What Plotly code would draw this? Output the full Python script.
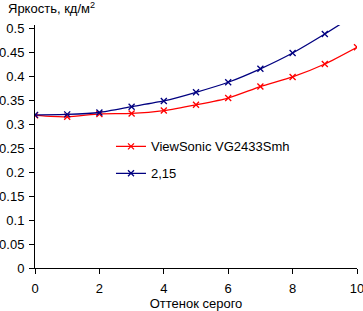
import plotly.graph_objects as go

x_vals = [0, 1, 2, 3, 4, 5, 6, 7, 8, 9, 10]
viewsonic = [0.318, 0.315, 0.321, 0.322, 0.328, 0.340, 0.354, 0.378, 0.398, 0.425, 0.460]
gamma215 = [0.319, 0.320, 0.324, 0.336, 0.348, 0.366, 0.387, 0.415, 0.448, 0.4875, 0.530]

series_names = ["ViewSonic VG2433Smh", "2,15"]
y_title = "Яркость, кд/м<sup>2</sup>"
x_title = "Оттенок серого"

FONT = "Liberation Sans, Arial, sans-serif"

fig = go.Figure()
fig.add_trace(go.Scatter(
    x=x_vals, y=viewsonic, name=series_names[0], mode="lines+markers",
    line=dict(color="#FF0000", width=1.3, shape="spline", smoothing=0.6),
    marker=dict(symbol="x-thin", size=6, line=dict(color="#FF0000", width=1.3)),
    legendgroup="a",
))
fig.add_trace(go.Scatter(
    x=x_vals, y=gamma215, name=series_names[1], mode="lines+markers",
    line=dict(color="#000080", width=1.3, shape="spline", smoothing=0.6),
    marker=dict(symbol="x-thin", size=6, line=dict(color="#000080", width=1.3)),
    legendgroup="b",
))

fig.update_layout(
    width=363, height=311,
    margin=dict(l=35, r=6, t=25, b=43),
    plot_bgcolor="white", paper_bgcolor="white",
    font=dict(family=FONT, size=13, color="black"),
    showlegend=True,
    legend=dict(x=0.236, y=0.562, xanchor="left", yanchor="top",
                bgcolor="rgba(0,0,0,0)", font=dict(size=13),
                traceorder="grouped", tracegroupgap=7, itemwidth=30),
    xaxis=dict(range=[0, 10], dtick=2, tick0=0, showgrid=False, zeroline=False,
               showline=True, linecolor="black", linewidth=1,
               ticks="outside", ticklen=5, tickcolor="black",
               ticklabelstandoff=3, ticklabeloverflow="allow", automargin=False,
               title=dict(text=x_title, standoff=6, font=dict(size=13))),
    yaxis=dict(range=[0, 0.50625], dtick=0.05, tick0=0, showgrid=False, zeroline=False,
               showline=True, linecolor="black", linewidth=1,
               ticks="outside", ticklen=5, tickcolor="black",
               ticklabelstandoff=2, automargin=False),
    annotations=[dict(text=y_title, xref="paper", yref="paper", x=0, y=1,
                      xanchor="left", yanchor="bottom", showarrow=False,
                      xshift=-29, yshift=7, font=dict(size=13))],
)

fig.write_html("out.html")
